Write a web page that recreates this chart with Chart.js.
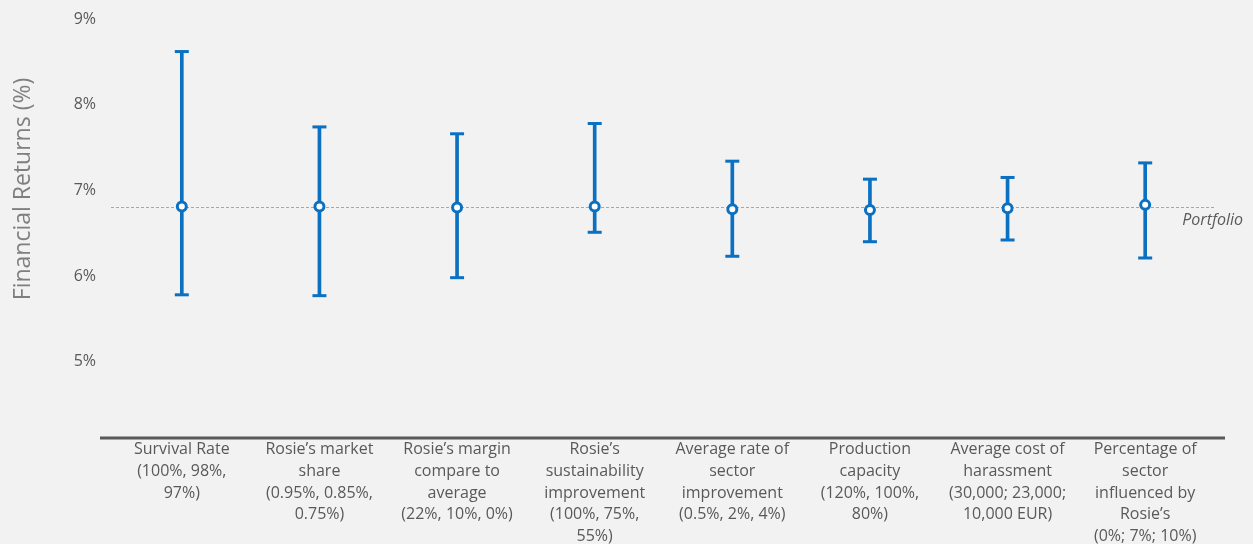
<!DOCTYPE html>
<html>
<head>
<meta charset="utf-8">
<style>
  html, body { margin: 0; padding: 0; background: #F2F2F2; }
  #wrap { width: 1253px; height: 544px; position: relative; }
</style>
<script src="https://cdn.jsdelivr.net/npm/chart.js@4/dist/chart.umd.min.js"></script>
</head>
<body>
<div id="wrap"><canvas id="chart" width="1253" height="544"></canvas></div>
<script>
// Sensitivity drivers and their tested input ranges
const categories = [
  ["Survival Rate", "(100%, 98%,", "97%)"],
  ["Rosie\u2019s market", "share", "(0.95%, 0.85%,", "0.75%)"],
  ["Rosie\u2019s margin", "compare to", "average", "(22%, 10%, 0%)"],
  ["Rosie\u2019s", "sustainability", "improvement", "(100%, 75%,", "55%)"],
  ["Average rate of", "sector", "improvement", "(0.5%, 2%, 4%)"],
  ["Production", "capacity", "(120%, 100%,", "80%)"],
  ["Average cost of", "harassment", "(30,000; 23,000;", "10,000 EUR)"],
  ["Percentage of", "sector", "influenced by", "Rosie\u2019s", "(0%; 7%; 10%)"]
];

// Financial returns (%) per driver: central case, upper and lower bound
const midReturns  = [6.81, 6.81, 6.80, 6.81, 6.78, 6.77, 6.79, 6.83];
const highReturns = [8.62, 7.74, 7.66, 7.78, 7.34, 7.13, 7.15, 7.32];
const lowReturns  = [5.78, 5.77, 5.98, 6.51, 6.23, 6.40, 6.42, 6.21];

// Portfolio reference return (%)
const portfolioReturn = 6.81;

// Y axis range and tick values (%)
const yMin = 4.12;
const yMax = 9;
const yTicks = [5, 6, 7, 8, 9];
const yTitle = 'Financial Returns (%)';

const BLUE = '#0A70C2';
const TEXT = '#595959';
const FONT = "'Open Sans', 'Noto Sans', sans-serif";

const backgroundPlugin = {
  id: 'background',
  beforeDraw(chart) {
    const ctx = chart.ctx;
    ctx.save();
    ctx.fillStyle = '#F2F2F2';
    ctx.fillRect(0, 0, chart.width, chart.height);
    ctx.restore();
  }
};

// Portfolio reference line and its label, drawn behind the error bars
const portfolioPlugin = {
  id: 'portfolio',
  beforeDatasetsDraw(chart) {
    const { ctx, chartArea, scales } = chart;
    const y = scales.y.getPixelForValue(portfolioReturn);
    ctx.save();
    ctx.strokeStyle = '#A6A6A6';
    ctx.lineWidth = 1;
    ctx.setLineDash([3, 2]);
    ctx.beginPath();
    ctx.moveTo(chartArea.left - 2, Math.round(y) + 0.5);
    ctx.lineTo(chartArea.right + 1, Math.round(y) + 0.5);
    ctx.stroke();
    ctx.setLineDash([]);
    ctx.fillStyle = TEXT;
    ctx.font = "italic 16px " + FONT;
    ctx.textAlign = 'right';
    ctx.textBaseline = 'middle';
    ctx.fillText('Portfolio', chartArea.right + 29, y + 14);
    ctx.restore();
  }
};

// Category axis line and the vertical axis title
const axisPlugin = {
  id: 'axisDecor',
  afterDraw(chart) {
    const { ctx, chartArea } = chart;
    ctx.save();
    ctx.strokeStyle = '#595959';
    ctx.lineWidth = 3;
    ctx.beginPath();
    ctx.moveTo(chartArea.left - 13, chartArea.bottom + 1);
    ctx.lineTo(chartArea.right + 11, chartArea.bottom + 1);
    ctx.stroke();

    ctx.translate(23, 189);
    ctx.rotate(-Math.PI / 2);
    ctx.fillStyle = '#7F7F7F';
    ctx.font = "23px " + FONT;
    ctx.textAlign = 'center';
    ctx.textBaseline = 'middle';
    ctx.fillText(yTitle, 0, 0);
    ctx.restore();
  }
};

const ranges = lowReturns.map((lo, i) => [lo, highReturns[i]]);

new Chart(document.getElementById('chart'), {
  type: 'bar',
  data: {
    labels: categories,
    datasets: [
      {
        type: 'line',
        label: 'Central case',
        data: midReturns,
        showLine: false,
        pointStyle: 'circle',
        pointRadius: 4.5,
        pointBorderWidth: 3,
        pointBackgroundColor: '#FFFFFF',
        pointBorderColor: BLUE,
        order: 0
      },
      {
        type: 'line',
        label: 'Upper bound',
        data: highReturns,
        showLine: false,
        pointStyle: 'line',
        pointRadius: 7,
        pointBorderWidth: 3,
        pointBorderColor: BLUE,
        order: 1
      },
      {
        type: 'line',
        label: 'Lower bound',
        data: lowReturns,
        showLine: false,
        pointStyle: 'line',
        pointRadius: 7,
        pointBorderWidth: 3,
        pointBorderColor: BLUE,
        order: 1
      },
      {
        type: 'bar',
        label: 'Range',
        data: ranges,
        backgroundColor: BLUE,
        borderWidth: 0,
        barThickness: 3,
        order: 2
      }
    ]
  },
  options: {
    responsive: false,
    animation: false,
    events: [],
    layout: { padding: { top: 19, right: 39, left: 0, bottom: 0 } },
    plugins: {
      legend: { display: false },
      tooltip: { enabled: false }
    },
    scales: {
      x: {
        offset: true,
        grid: { display: false, drawTicks: false },
        border: { display: false },
        ticks: {
          color: TEXT,
          font: { family: FONT, size: 16, lineHeight: 1.35 },
          padding: 2,
          maxRotation: 0,
          minRotation: 0,
          autoSkip: false
        },
        afterFit(scale) { scale.height = 107; }
      },
      y: {
        min: yMin,
        max: yMax,
        grid: { display: false, drawTicks: false },
        border: { display: false },
        afterBuildTicks(scale) { scale.ticks = yTicks.map(v => ({ value: v })); },
        ticks: {
          color: TEXT,
          font: { family: FONT, size: 16 },
          padding: 17,
          callback: v => v + '%'
        },
        afterFit(scale) {
          scale.width = 113;
          scale.paddingTop = 0;
          scale.paddingBottom = 0;
        }
      }
    }
  },
  plugins: [backgroundPlugin, portfolioPlugin, axisPlugin]
});
</script>
</body>
</html>
